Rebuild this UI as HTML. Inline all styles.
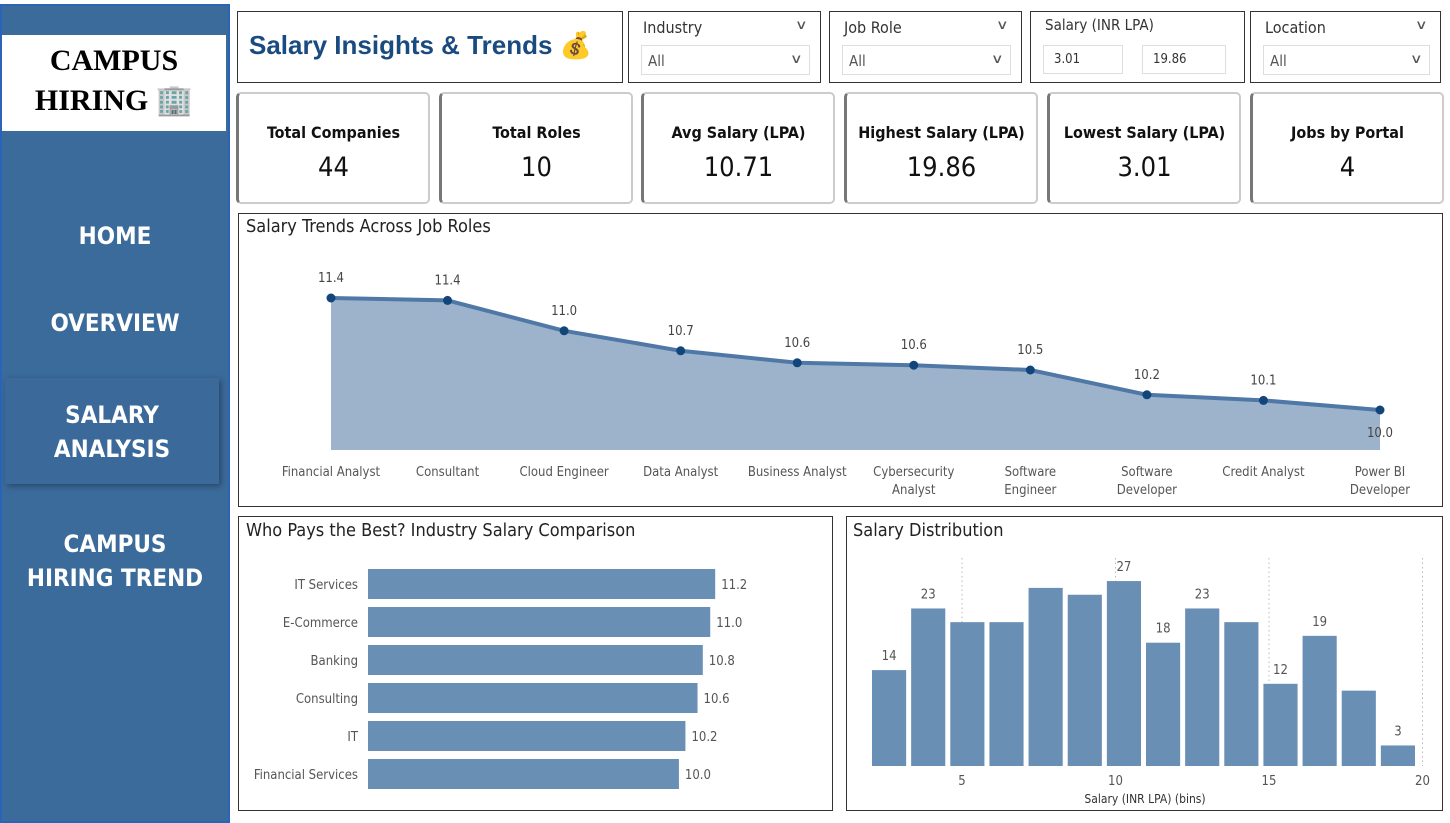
<!DOCTYPE html>
<html><head><meta charset="utf-8"><style>
*{box-sizing:border-box;margin:0;padding:0}
body{width:1450px;height:823px;background:#fff;position:relative;overflow:hidden;font-family:"DejaVu Sans Condensed","Liberation Sans",sans-serif}
.abs{position:absolute}
#side{left:0;top:4px;width:230px;height:819px;background:#3b6b9b;border:2px solid #2a64b8}
.nav{position:absolute;color:#fff;font-weight:bold;font-size:24px;text-align:center;line-height:34px;font-family:"DejaVu Sans Condensed","DejaVu Sans","Liberation Sans",sans-serif}
.box{position:absolute;border:1.5px solid #333;background:#fff}
.card{position:absolute;border:2px solid #ccc;border-left:3px solid #777;border-radius:5px;background:#fff;text-align:center}
.card .t{font-weight:bold;font-size:16px;margin-top:29px;color:#111}
.card .v{font-size:27px;margin-top:10px;color:#111}
.flt .lab{position:absolute;left:14px;top:6px;font-size:16px;color:#333}
.flt .sel{position:absolute;left:12px;top:33px;right:10px;height:30px;border:1px solid #ddd;font-size:15px;color:#555;padding:6px 6px}
.chev{position:absolute;font-size:13px;color:#555;transform:scaleX(1.5)}
</style></head><body>
<div id="side" class="abs">
  <div class="abs" style="left:0;top:29px;width:224px;height:96px;background:#fff;text-align:center;font-family:'Liberation Serif',serif;font-weight:bold;font-size:30px;line-height:40px;padding-top:6px;color:#000">CAMPUS<br>HIRING 🏢</div>
  <div class="nav" style="left:0;width:226px;top:213px">HOME</div>
  <div class="nav" style="left:0;width:226px;top:300px">OVERVIEW</div>
  <div class="nav" style="left:3px;width:214px;top:372px;height:106px;padding-top:20px;background:#3a699a;box-shadow:2px 2px 6px rgba(0,0,0,.35)">SALARY<br>ANALYSIS</div>
  <div class="nav" style="left:0;width:226px;top:521px">CAMPUS<br>HIRING TREND</div>
</div>

<div class="box" style="left:237px;top:11px;width:386px;height:72px">
  <div class="abs" style="left:11px;top:18px;font-family:'Liberation Sans',sans-serif;font-weight:bold;font-size:26px;color:#1a4b80">Salary Insights &amp; Trends 💰</div>
</div>

<div class="box flt" style="left:628px;top:11px;width:193px;height:72px"><div class="lab">Industry</div><div class="chev" style="right:14px;top:6px">∨</div><div class="sel">All<span class="chev" style="right:8px;top:6px">∨</span></div></div>
<div class="box flt" style="left:829px;top:11px;width:193px;height:72px"><div class="lab">Job Role</div><div class="chev" style="right:14px;top:6px">∨</div><div class="sel">All<span class="chev" style="right:8px;top:6px">∨</span></div></div>
<div class="box flt" style="left:1030px;top:11px;width:215px;height:72px"><div class="lab" style="top:4px;font-size:15px">Salary (INR LPA)</div>
  <div class="abs" style="left:12px;top:33px;width:80px;height:29px;border:1px solid #ddd;font-size:13px;padding:6px 10px;color:#333">3.01</div>
  <div class="abs" style="left:111px;top:33px;width:84px;height:29px;border:1px solid #ddd;font-size:13px;padding:6px 10px;color:#333">19.86</div></div>
<div class="box flt" style="left:1250px;top:11px;width:191px;height:72px"><div class="lab">Location</div><div class="chev" style="right:14px;top:6px">∨</div><div class="sel">All<span class="chev" style="right:8px;top:6px">∨</span></div></div>

<div class="card" style="left:236px;top:92px;width:194px;height:112px"><div class="t">Total Companies</div><div class="v">44</div></div>
<div class="card" style="left:439px;top:92px;width:194px;height:112px"><div class="t">Total Roles</div><div class="v">10</div></div>
<div class="card" style="left:641px;top:92px;width:194px;height:112px"><div class="t">Avg Salary (LPA)</div><div class="v">10.71</div></div>
<div class="card" style="left:844px;top:92px;width:194px;height:112px"><div class="t">Highest Salary (LPA)</div><div class="v">19.86</div></div>
<div class="card" style="left:1047px;top:92px;width:194px;height:112px"><div class="t">Lowest Salary (LPA)</div><div class="v">3.01</div></div>
<div class="card" style="left:1250px;top:92px;width:194px;height:112px"><div class="t">Jobs by Portal</div><div class="v">4</div></div>

<div class="box" style="left:238px;top:213px;width:1205px;height:294px"></div>
<div class="box" style="left:238px;top:516px;width:595px;height:295px"></div>
<div class="box" style="left:846px;top:516px;width:597px;height:295px"></div>

<svg id="charts" class="abs" style="left:0;top:0" width="1450" height="823" font-family="DejaVu Sans Condensed, Liberation Sans, sans-serif">
<text x="246" y="232" font-size="18" fill="#222">Salary Trends Across Job Roles</text>
<text x="246" y="536" font-size="18" fill="#222">Who Pays the Best? Industry Salary Comparison</text>
<text x="853" y="536" font-size="18" fill="#222">Salary Distribution</text>
<g id="line"></g><g id="bars"></g><g id="hist"></g>
</svg>
<script>
const NS="http://www.w3.org/2000/svg";
const roles=["Financial Analyst","Consultant","Cloud Engineer","Data Analyst","Business Analyst","Cybersecurity|Analyst","Software|Engineer","Software|Developer","Credit Analyst","Power BI|Developer"];
const roleSalary=[11.40,11.37,10.99,10.74,10.59,10.56,10.50,10.19,10.12,10.00];
const industries=["IT Services","E-Commerce","Banking","Consulting","IT","Financial Services"];
const industrySalary=[11.2,11.04,10.8,10.63,10.24,10.03];
const binCounts=[14,23,21,21,26,25,27,18,23,21,12,19,11,3];
const binShowLabel=[1,1,0,0,0,0,1,1,1,0,1,1,0,1];
const histTicks=[5,10,15,20];

function mk(tag,attrs,parent){const e=document.createElementNS(NS,tag);for(const k in attrs)e.setAttribute(k,attrs[k]);parent.appendChild(e);return e;}
function txt(s,attrs,parent){const e=mk("text",attrs,parent);e.textContent=s;return e;}

const lg=document.getElementById("line");
const lx=i=>331+i*(1380-331)/(roles.length-1);
const ly=v=>410-(v-10)*80;
let d="M"+lx(0)+",450";roleSalary.forEach((v,i)=>d+=" L"+lx(i)+","+ly(v));d+=" L"+lx(roles.length-1)+",450 Z";
const area=mk("path",{d:d,fill:"#9db3cc"},lg);


const ln=mk("polyline",{points:roleSalary.map((v,i)=>lx(i)+","+ly(v)).join(" "),fill:"none",stroke:"#4f78a6","stroke-width":4},lg);


roleSalary.forEach((v,i)=>{
  const c=mk("circle",{cx:lx(i),cy:ly(v),r:4.5,fill:"#12457a"},lg);
  
  
  const last=i===roles.length-1;
  const t=txt(v.toFixed(1),{x:lx(i),y:last?ly(v)+27:ly(v)-16,"text-anchor":"middle","font-size":13,fill:"#444"},lg);
  
  
  roles[i].split("|").forEach((p,j)=>{
    const l=txt(p,{x:lx(i),y:476+j*18,"text-anchor":"middle","font-size":13,fill:"#555"},lg);
    
    
  });
});

const bg=document.getElementById("bars");
const bx=v=>368+v*31;
industries.forEach((n,i)=>{
  const y=569+i*38;
  const r=mk("rect",{x:368,y:y,width:bx(industrySalary[i])-368,height:30,fill:"#6a8fb5"},bg);
  
  
  const l=txt(n,{x:358,y:y+20,"text-anchor":"end","font-size":13,fill:"#555"},bg);
  
  
  const v=txt(industrySalary[i].toFixed(1),{x:bx(industrySalary[i])+6,y:y+20,"font-size":13,fill:"#555"},bg);
  
  
});

const hg=document.getElementById("hist");
const hxv=v=>962+(v-5)*30.7;
const hy=c=>766-c*6.85;
histTicks.forEach(t=>{
  const g=mk("line",{x1:hxv(t),x2:hxv(t),y1:558,y2:766,stroke:"#bbb","stroke-dasharray":"1.5,3"},hg);
  
  
  const l=txt(String(t),{x:hxv(t),y:785,"text-anchor":"middle","font-size":13,fill:"#555"},hg);
  
  
});
const bw=(1420-872)/binCounts.length;
binCounts.forEach((c,i)=>{
  const x=872+i*bw;
  const r=mk("rect",{x:x,y:hy(c),width:bw-5,height:766-hy(c),fill:"#6a8fb5"},hg);
  
  
  if(binShowLabel[i]){
    const t=txt(String(c),{x:x+(bw-5)/2,y:hy(c)-10,"text-anchor":"middle","font-size":13,fill:"#555"},hg);
    
    
  }
});
const xt=txt("Salary (INR LPA) (bins)",{x:1145,y:803,"text-anchor":"middle","font-size":12,fill:"#333"},hg);


</script>
</body></html>
